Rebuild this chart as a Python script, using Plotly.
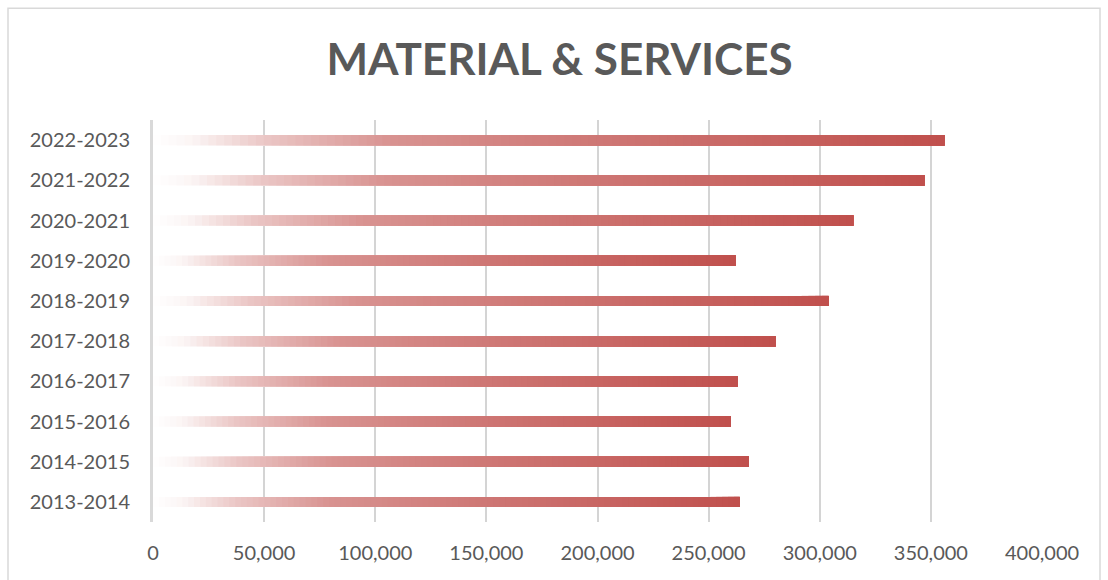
import plotly.graph_objects as go

categories = ["2013-2014", "2014-2015", "2015-2016", "2016-2017", "2017-2018",
              "2018-2019", "2019-2020", "2020-2021", "2021-2022", "2022-2023"]
values = [264000, 268000, 260000, 263000, 280000, 304000, 262000, 315000, 347000, 356000]
x_ticks = [0, 50000, 100000, 150000, 200000, 250000, 300000, 350000, 400000]
title_text = "MATERIAL & SERVICES"

# gradient style (fraction along bar -> opacity of red over white)
grad_pts = [(0.0, 0.0), (0.05, 0.06), (0.14, 0.32), (0.30, 0.62), (0.55, 0.77), (1.0, 1.0)]
base_rgb = (192, 80, 77)
N = 100


def alpha_at(t):
    for (t0, a0), (t1, a1) in zip(grad_pts[:-1], grad_pts[1:]):
        if t0 <= t <= t1:
            return a0 + (a1 - a0) * (t - t0) / (t1 - t0)
    return 1.0


def col(a):
    r = round(255 - a * (255 - base_rgb[0]))
    g = round(255 - a * (255 - base_rgb[1]))
    b = round(255 - a * (255 - base_rgb[2]))
    return f"rgb({r},{g},{b})"


fig = go.Figure()
for k in range(N):
    f0 = k / N
    fig.add_trace(go.Bar(
        y=categories,
        x=[v * (1 - f0) for v in values],
        base=[v * f0 for v in values],
        orientation="h",
        width=0.25,
        marker=dict(color=col(alpha_at((k + 0.5) / N)), line=dict(width=0)),
        hoverinfo="skip",
        showlegend=False,
    ))

L, R, T, B = 153, 66, 120, 57.5
W, H = 1108, 580
pw, ph = W - L - R, H - T - B


def px2fx(px):
    return (px - L) / pw


def py2fy(py):
    return (H - B - py) / ph


fig.add_shape(type="rect", xref="paper", yref="paper",
              x0=px2fx(8), x1=px2fx(1100), y0=py2fy(595), y1=py2fy(8),
              line=dict(color="#d9d9d9", width=1.5), fillcolor="rgba(0,0,0,0)", layer="below")

fig.update_layout(
    width=W, height=H,
    margin=dict(l=L, r=R, t=T, b=B, pad=0),
    barmode="overlay",
    plot_bgcolor="white", paper_bgcolor="white",
    font=dict(family="Lato", color="#595959"),
    title=dict(text=title_text, x=0.505, xanchor="center", xref="container",
               y=(H - 60) / H, yanchor="middle", yref="container",
               font=dict(family="Lato", size=44, color="#595959", weight="bold")),
    xaxis=dict(range=[0, 400000], tickvals=x_ticks, tickformat=",",
               showgrid=True, gridcolor="#d4d4d4", gridwidth=1.5,
               zeroline=False, showline=False, ticks="",
               tickfont=dict(size=20, color="#595959"), ticklabelstandoff=17),
    yaxis=dict(categoryorder="array", categoryarray=categories,
               showgrid=False, zeroline=False, showline=True,
               linecolor="#d9d9d9", linewidth=3, ticks="",
               tickfont=dict(size=20, color="#595959"), ticklabelstandoff=16),
)

fig.write_html("out.html")
